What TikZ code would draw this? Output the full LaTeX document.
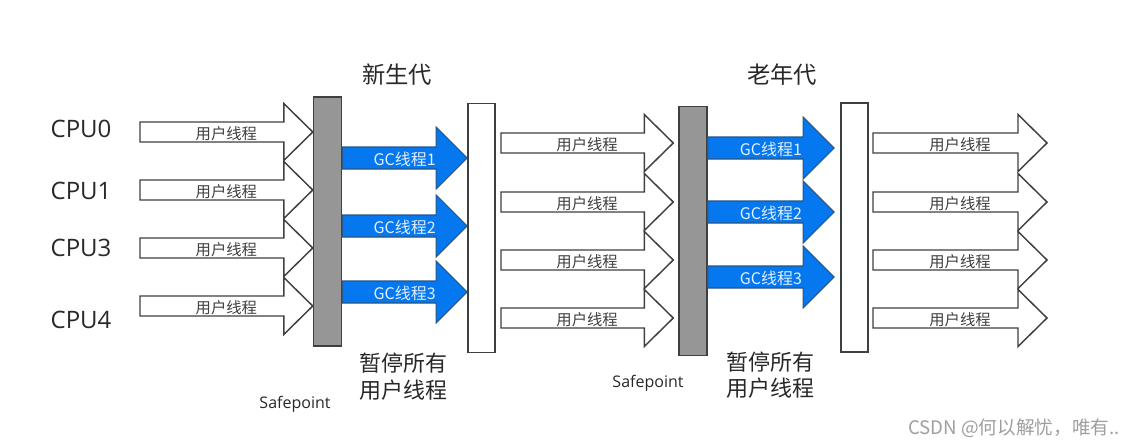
\documentclass[tikz,border=0pt]{standalone}
\usepackage{fontspec}
\setmainfont{Noto Sans CJK SC}
\newfontfamily\latinfont{Open Sans}
\usepackage{tikz}
\usetikzlibrary{positioning, calc}

\definecolor{gcblue}{RGB}{5,120,240}
\definecolor{bargray}{RGB}{150,150,150}
\definecolor{linegray}{RGB}{64,64,64}
\definecolor{darktext}{RGB}{40,40,40}
\definecolor{gclight}{RGB}{225,238,255}

% fat arrow for a user thread: #1 tail, #2 tip
\newcommand{\userthr}[2]{%
  \draw[userarrow] ($(#1)+(0,-10)$) -- ($(#2)+(-29,-10)$) -- ($(#2)+(-29,-28.5)$) -- (#2)
    -- ($(#2)+(-29,28.5)$) -- ($(#2)+(-29,10)$) -- ($(#1)+(0,10)$) -- cycle;
  \node[userlbl] (#1l) at ($(#1)!0.5!(#2)+(0,1.5)$) {用户线程};
}
% fat arrow for a GC thread: #1 tail, #2 tip, #3 number
\newcommand{\gcthr}[3]{%
  \draw[gcarrow] ($(#1)+(0,-11)$) -- ($(#2)+(-31,-11)$) -- ($(#2)+(-31,-31)$) -- (#2)
    -- ($(#2)+(-31,31)$) -- ($(#2)+(-31,11)$) -- ($(#1)+(0,11)$) -- cycle;
  \node[gclbl] (#1l) at ($(#1)!0.5!(#2)+(0,1)$) {GC线程#3};
}

\begin{document}
\begin{tikzpicture}[x=0.75pt, y=-0.75pt,
    spbar/.style={draw=linegray, line width=1.1pt, fill=bargray, minimum width=21pt, minimum height=187pt, inner sep=0pt},
    genbar/.style={draw=linegray, line width=1.1pt, fill=white, minimum width=20.5pt, minimum height=187pt, inner sep=0pt},
    userarrow/.style={draw=linegray, line width=1.1pt, fill=white},
    gcarrow/.style={draw=linegray!60!gcblue, line width=0.9pt, fill=gcblue},
    userlbl/.style={font=\fontsize{11.5}{13}\selectfont, text=linegray, inner sep=0pt},
    gclbl/.style={font=\fontsize{12}{14}\selectfont, text=gclight, inner sep=0pt},
    cpulbl/.style={font=\latinfont\fontsize{18}{21}\selectfont, text=darktext},
    genlbl/.style={font=\fontsize{17.5}{21}\selectfont, text=darktext},
    pauselbl/.style={font=\fontsize{16.5}{20}\selectfont, text=darktext, align=center},
    splbl/.style={font=\latinfont\fontsize{12}{14}\selectfont, text=darktext},
    ]
    \useasboundingbox[fill=white] (0,0) rectangle (1140,447);

    % Bars: safepoints (grey) and generations (white)
    \node[spbar] (sp1) at (327.5,221.5) {};
    \node[genbar] (yg) at (481.5,228) {};
    \node[spbar] (sp2) at (693,231) {};
    \node[genbar] (og) at (854.5,227.5) {};

    % CPU labels
    \node[cpulbl] (cpu0) at (81,129) {CPU0};
    \node[cpulbl] (cpu1) at (81,191) {CPU1};
    \node[cpulbl] (cpu3) at (81,248) {CPU3};
    \node[cpulbl] (cpu4) at (81,320) {CPU4};

    % User threads up to the first safepoint
    \coordinate (ua1) at (140,132);
    \coordinate (ua2) at (140,190);
    \coordinate (ua3) at (140,248);
    \coordinate (ua4) at (140,306);
    \userthr{ua1}{sp1.west |- ua1}
    \userthr{ua2}{sp1.west |- ua2}
    \userthr{ua3}{sp1.west |- ua3}
    \userthr{ua4}{sp1.west |- ua4}

    % GC threads, young generation
    \coordinate (ga1) at (sp1.east |- 0,158);
    \coordinate (ga2) at (sp1.east |- 0,226);
    \coordinate (ga3) at (sp1.east |- 0,292);
    \gcthr{ga1}{yg.west |- ga1}{1}
    \gcthr{ga2}{yg.west |- ga2}{2}
    \gcthr{ga3}{yg.west |- ga3}{3}

    % User threads up to the second safepoint (small gap before the bar)
    \coordinate (ub1) at (501,143);
    \coordinate (ub2) at (501,202);
    \coordinate (ub3) at (501,260);
    \coordinate (ub4) at (501,318);
    \coordinate (ub1e) at ($(sp2.west |- ub1)+(-5,0)$);
    \coordinate (ub2e) at ($(sp2.west |- ub2)+(-5,0)$);
    \coordinate (ub3e) at ($(sp2.west |- ub3)+(-5,0)$);
    \coordinate (ub4e) at ($(sp2.west |- ub4)+(-5,0)$);
    \userthr{ub1}{ub1e}
    \userthr{ub2}{ub2e}
    \userthr{ub3}{ub3e}
    \userthr{ub4}{ub4e}

    % GC threads, old generation
    \coordinate (gb1) at (sp2.east |- 0,148);
    \coordinate (gb2) at (sp2.east |- 0,212);
    \coordinate (gb3) at (sp2.east |- 0,277);
    \coordinate (gb1e) at ($(og.west |- gb1)+(-6,0)$);
    \coordinate (gb2e) at ($(og.west |- gb2)+(-6,0)$);
    \coordinate (gb3e) at ($(og.west |- gb3)+(-6,0)$);
    \gcthr{gb1}{gb1e}{1}
    \gcthr{gb2}{gb2e}{2}
    \gcthr{gb3}{gb3e}{3}

    % User threads after the old generation
    \coordinate (uc1) at (873,143);
    \coordinate (uc2) at (873,202);
    \coordinate (uc3) at (873,260);
    \coordinate (uc4) at (873,318);
    \coordinate (uc1e) at (1047,143);
    \coordinate (uc2e) at (1047,202);
    \coordinate (uc3e) at (1047,260);
    \coordinate (uc4e) at (1047,318);
    \userthr{uc1}{uc1e}
    \userthr{uc2}{uc2e}
    \userthr{uc3}{uc3e}
    \userthr{uc4}{uc4e}

    % Labels
    \node[genlbl] (ygl) at (397,75) {新生代};
    \node[genlbl] (ogl) at (782,75) {老年代};
    \node[pauselbl] (pa1) at (403,376.5) {暂停所有\\用户线程};
    \node[pauselbl] (pa2) at (770,375) {暂停所有\\用户线程};
    \node[splbl] (spl1) at (295,404) {Safepoint};
    \node[splbl] (spl2) at (648,383) {Safepoint};
    \node[font=\fontsize{14}{16}\selectfont, text=gray!75] (mark) at (1014,428) {CSDN @何以解忧，唯有..};
\end{tikzpicture}
\end{document}
